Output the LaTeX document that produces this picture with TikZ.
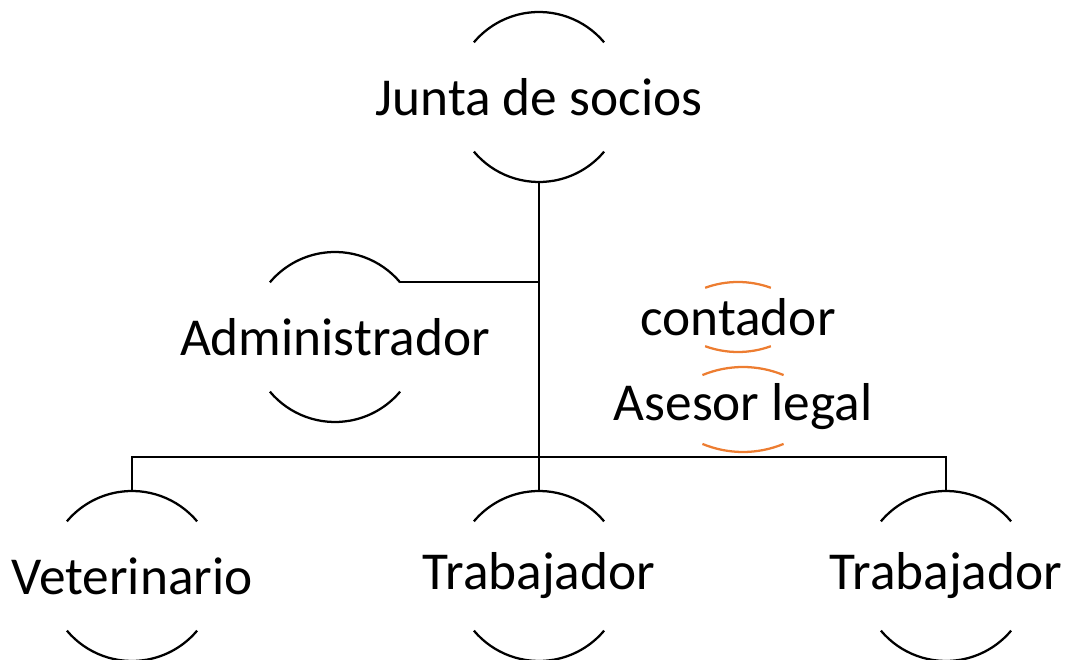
\documentclass[tikz,border=0pt]{standalone}
\usepackage{fontspec}
\setmainfont{Carlito}
\usetikzlibrary{calc}

\definecolor{naranja}{RGB}{237,125,49}

\begin{document}
\begin{tikzpicture}[x=0.75pt,y=0.75pt,font=\fontsize{40}{48}\selectfont,
  linea/.style={line width=1.7pt,black},
  arco/.style={line width=1.7pt,black},
  arconar/.style={line width=1.7pt,naranja}]
 \useasboundingbox (0,0) rectangle (1067,660);
 % cargos
 \node (junta) at (539,563) {Junta de socios};
 \node (adm)   at (335,323) {Administrador};
 \node (vet)   at (132,84)  {Veterinario};
 \node (trab1) at (539,84)  {Trabajador};
 \node (trab2) at (946,84)  {Trabajador};
 \node (cont)  at (738,343) {contador};
 \node (ases)  at (743,253) {Asesor legal};
 % arcos de cada cargo
 \foreach \n in {junta,adm,vet,trab1,trab2}{
  \draw[arco] (\n.center) ++(40:85) arc[start angle=40,end angle=140,radius=85];
  \draw[arco] (\n.center) ++(220:85) arc[start angle=220,end angle=320,radius=85];
  \coordinate (\n-top) at ($(\n.center)+(90:85)$);
  \coordinate (\n-bot) at ($(\n.center)+(270:85)$);
  \coordinate (\n-ne)  at ($(\n.center)+(40:85)$);
 }
 \draw[arconar] ($(cont.center)+(0,-61)$) ++(70:96) arc[start angle=70,end angle=110,radius=96];
 \draw[arconar] ($(cont.center)+(0,61)$) ++(250:96) arc[start angle=250,end angle=290,radius=96];
 \draw[arconar] ($(ases.center)+(0,-66)$) ++(67.5:106) arc[start angle=67.5,end angle=112.5,radius=106];
 \draw[arconar] ($(ases.center)+(0,61)$) ++(247.5:106) arc[start angle=247.5,end angle=292.5,radius=106];
 % conectores
 \coordinate (bus) at (539,203);
 \draw[linea] (junta-bot) -- (bus);
 \draw[linea] (adm-ne) -- (adm-ne -| junta-bot);
 \draw[linea] (vet-top) |- (bus) -| (trab2-top);
 \draw[linea] (trab1-top) -- (bus);
\end{tikzpicture}
\end{document}
